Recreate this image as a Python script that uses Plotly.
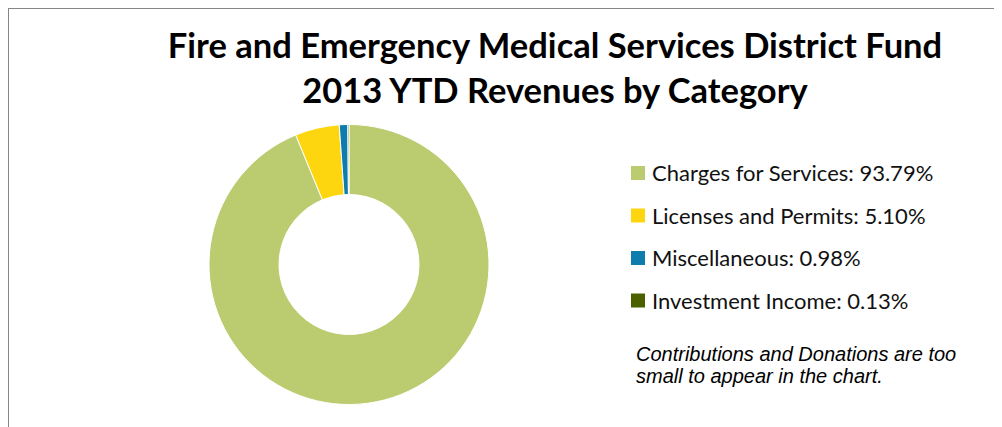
import plotly.graph_objects as go

categories = ["Charges for Services", "Licenses and Permits", "Miscellaneous", "Investment Income"]
shares = [93.79, 5.10, 0.98, 0.13]
colors = ["#BBCB6F", "#FDD60F", "#0E7DAE", "#4B6100"]
note_lines = ["Contributions and Donations are too", "small to appear in the chart."]

# the page puts the figure 8px in from the top-left corner
OFF = 8
W, H = 1002 - OFF, 427 - OFF


def px(x):
    return (x - OFF) / W


def py(y):
    return (H - (y - OFF)) / H


fig = go.Figure()
fig.add_trace(go.Pie(
    labels=categories,
    values=shares,
    hole=0.5,
    sort=False,
    direction="clockwise",
    rotation=0,
    marker=dict(colors=colors, line=dict(color="white", width=1)),
    textinfo="none",
    showlegend=False,
    domain=dict(x=[px(209), px(489)], y=[py(404.5), py(124.5)]),
))

# legend drawn by hand so the rows get the wide spacing of the original
shapes = []
annotations = []
row_y = [173, 215.5, 258, 300.5]
for name, val, col, yc in zip(categories, shares, colors, row_y):
    shapes.append(dict(type="rect", xref="paper", yref="paper",
                       x0=px(631), x1=px(645), y0=py(yc + 7), y1=py(yc - 7),
                       fillcolor=col, line=dict(width=0)))
    annotations.append(dict(x=px(650), y=py(yc), xref="paper", yref="paper",
                            text=f"{name}: {val:.2f}%", showarrow=False,
                            xanchor="left", yanchor="middle",
                            font=dict(family="Lato", size=22, color="#111111")))

for line, yc in zip(note_lines, [354, 376]):
    annotations.append(dict(x=px(634), y=py(yc), xref="paper", yref="paper",
                            text=f"<i>{line}</i>", showarrow=False, align="left",
                            xanchor="left", yanchor="middle",
                            font=dict(family="Liberation Sans", size=20, color="black")))

# frame lines (the chart border is cut off on the right and bottom)
shapes.append(dict(type="line", xref="paper", yref="paper", x0=0, x1=1, y0=1, y1=1,
                   line=dict(color="#868686", width=2)))
shapes.append(dict(type="line", xref="paper", yref="paper", x0=0, x1=0, y0=0, y1=1,
                   line=dict(color="#868686", width=2)))

fig.update_layout(
    width=W, height=H,
    margin=dict(l=0, r=0, t=0, b=0),
    paper_bgcolor="white",
    title=dict(text="<b>Fire and Emergency Medical Services District Fund<br>2013 YTD Revenues by Category</b>",
               x=px(555), xanchor="center", y=py(58), yanchor="middle",
               font=dict(family="Lato", size=34.5, color="black")),
    shapes=shapes,
    annotations=annotations,
)

fig.write_html("out.html")
